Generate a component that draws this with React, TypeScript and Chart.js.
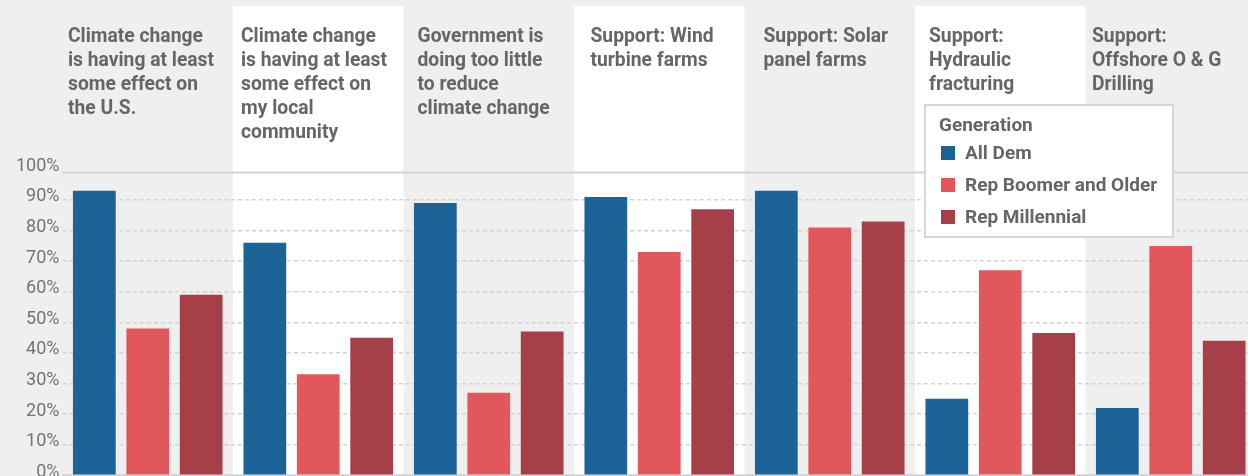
import React, { useEffect, useRef } from 'react';
import { Chart, registerables } from 'chart.js';

Chart.register(...registerables);

// ---- data ----
const categories: string[][] = [
  ['Climate change', 'is having at least', 'some effect on', 'the U.S.'],
  ['Climate change', 'is having at least', 'some effect on', 'my local', 'community'],
  ['Government is', 'doing too little', 'to reduce', 'climate change'],
  ['Support: Wind', 'turbine farms'],
  ['Support: Solar', 'panel farms'],
  ['Support:', 'Hydraulic', 'fracturing'],
  ['Support:', 'Offshore O & G', 'Drilling'],
];
const allDem = [93, 76, 89, 91, 93, 25, 22];
const repBoomer = [48, 33, 27, 73, 81, 67, 75];
const repMillennial = [59, 45, 47, 87, 83, 46.5, 44];
const seriesNames = ['All Dem', 'Rep Boomer and Older', 'Rep Millennial'];
const legendTitle = 'Generation';
const yTicks = [0, 10, 20, 30, 40, 50, 60, 70, 80, 90, 100];

// ---- styles ----
const COLORS = ['#1c6397', '#e1575a', '#a63f48'];
const BG_GRAY = '#efefef';
const TEXT = '#666666';
const GRID = '#d3d3d3';
const titleNudge = [5.5, 8, 14, 16.5, 19, 14, 6.5];

const CANVAS_W = 1262;
const CANVAS_H = 500;

const decorPlugin = {
  id: 'decor',
  beforeDraw(chart: any) {
    const { ctx } = chart;
    const x = chart.scales.x;
    ctx.save();
    ctx.fillStyle = BG_GRAY;
    ctx.fillRect(0, 0, chart.width, chart.height);
    const w = x.getPixelForValue(1) - x.getPixelForValue(0);
    ctx.fillStyle = '#ffffff';
    for (let i = 1; i < categories.length; i += 2) {
      const left = x.getPixelForValue(i) - w / 2;
      ctx.fillRect(left, 6, w, chart.height - 6);
    }
    // titles
    ctx.fillStyle = TEXT;
    ctx.font = 'bold 20px Roboto';
    ctx.textBaseline = 'alphabetic';
    ctx.textAlign = 'left';
    const sx = 146 / ctx.measureText('is having at least').width;
    categories.forEach((lines, i) => {
      const left = x.getPixelForValue(i) - w / 2 + titleNudge[i];
      lines.forEach((line, j) => {
        ctx.save();
        ctx.translate(left, 42 + j * 24);
        ctx.scale(sx, 1);
        ctx.fillText(line, 0, 0);
        ctx.restore();
      });
    });
    ctx.restore();
  },
  beforeDatasetsDraw(chart: any) {
    const { ctx, chartArea } = chart;
    const y = chart.scales.y;
    ctx.save();
    ctx.strokeStyle = GRID;
    ctx.lineWidth = 2;
    [
      [0, 0],
      [100, 3],
    ].forEach(([v, off]) => {
      const py = y.getPixelForValue(v) + off;
      ctx.beginPath();
      ctx.moveTo(chartArea.left, py);
      ctx.lineTo(chartArea.right, py);
      ctx.stroke();
    });
    ctx.restore();
  },
  afterDraw(chart: any) {
    const { ctx } = chart;
    const x = chart.scales.x;
    const w = x.getPixelForValue(1) - x.getPixelForValue(0);
    const bx = x.getPixelForValue(5) - w / 2 + 10;
    const by = 105;
    const bw = 248;
    const bh = 132;
    ctx.save();
    ctx.fillStyle = '#ffffff';
    ctx.fillRect(bx, by, bw, bh);
    ctx.strokeStyle = '#d6d6d6';
    ctx.lineWidth = 2;
    ctx.strokeRect(bx, by, bw, bh);
    ctx.fillStyle = TEXT;
    ctx.font = 'bold 19px Roboto';
    ctx.textBaseline = 'alphabetic';
    ctx.textAlign = 'left';
    ctx.fillText(legendTitle, bx + 14, by + 26);
    seriesNames.forEach((name, i) => {
      const ry = by + 41 + i * 32;
      ctx.fillStyle = COLORS[i];
      ctx.fillRect(bx + 16, ry, 14, 14);
      ctx.fillStyle = TEXT;
      ctx.fillText(name, bx + 40, ry + 13);
    });
    ctx.restore();
  },
};

export default function App() {
  const ref = useRef<HTMLCanvasElement | null>(null);
  useEffect(() => {
    if (!ref.current) return;
    const chart = new Chart(ref.current, {
      type: 'bar',
      data: {
        labels: categories.map((c) => c.join(' ')),
        datasets: [allDem, repBoomer, repMillennial].map((d, i) => ({
          label: seriesNames[i],
          data: d,
          backgroundColor: COLORS[i],
          borderWidth: 0,
          categoryPercentage: 0.94,
          barPercentage: 0.8,
        })),
      },
      options: {
        responsive: false,
        animation: false,
        devicePixelRatio: 1,
        layout: { padding: { top: 169.4, bottom: 24.7, left: 0, right: 6 } },
        plugins: { legend: { display: false }, tooltip: { enabled: false }, title: { display: false } },
        scales: {
          x: { display: false, grid: { display: false } },
          y: {
            min: 0,
            max: 100,
            afterBuildTicks: (s: any) => {
              s.ticks = yTicks.map((v) => ({ value: v }));
            },
            afterFit: (s: any) => {
              s.width = 62.5;
            },
            grid: {
              color: (c: any) => (c.tick && (c.tick.value === 100 || c.tick.value === 0) ? 'rgba(0,0,0,0)' : GRID),
              lineWidth: 1.5,
              drawTicks: false,
            },
            border: { display: false, dash: [4, 3] },
            ticks: {
              padding: 3,
              labelOffset: -3,
              color: '#737373',
              font: { family: 'Roboto', size: 18 },
              callback: (v: any) => v + '%',
            },
          },
        },
      },
      plugins: [decorPlugin],
    });
    return () => chart.destroy();
  }, []);
  return (
    <div
      style={{
        position: 'fixed',
        left: 0,
        top: 0,
        width: 1248,
        height: 476,
        overflow: 'hidden',
        background: BG_GRAY,
      }}
    >
      <canvas ref={ref} width={CANVAS_W} height={CANVAS_H} style={{ width: CANVAS_W, height: CANVAS_H, display: 'block' }} />
    </div>
  );
}
